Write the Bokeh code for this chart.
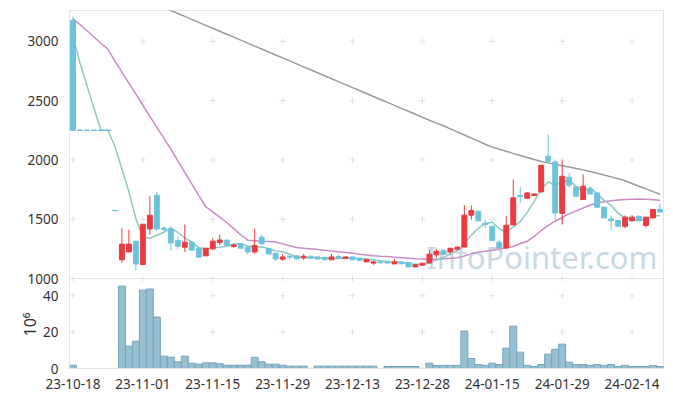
from bokeh.plotting import figure
from bokeh.models import (FixedTicker, Label, ColumnDataSource, Range1d, Span, Title)
from bokeh.embed import file_html
from bokeh.resources import INLINE

# ---------------- data ----------------
tick_days = [0, 10, 20, 30, 40, 50, 60, 70, 80]
tick_labels = ["23-10-18", "23-11-01", "23-11-15", "23-11-29", "23-12-13",
               "23-12-28", "24-01-15", "24-01-29", "24-02-14"]
price_ticks = [1000, 1500, 2000, 2500, 3000]
volume_ticks = [0, 20, 40]

opens = [3175, 2250, 2250, 2250, 2250, 2250, 1573, 1158, 1224, 1314,
         1118, 1418, 1702, 1425, 1420, 1320, 1264, 1306, 1255, 1191,
         1250, 1303, 1323, 1270, 1295, 1264, 1224, 1348, 1253, 1213,
         1163, 1188, 1191, 1175, 1188, 1182, 1178, 1158, 1185, 1168,
         1182, 1171, 1140, 1130, 1142, 1142, 1123, 1140, 1135, 1098,
         1112, 1131, 1200, 1239, 1224, 1247, 1266, 1534, 1567, 1466,
         1441, 1306, 1258, 1452, 1702, 1677, 1700, 1730, 2031, 1983,
         1550, 1854, 1772, 1666, 1755, 1722, 1601, 1502, 1489, 1441,
         1486, 1525, 1447, 1511, 1581]
highs = [3210, 2250, 2250, 2250, 2250, 2250, 1573, 1427, 1413, 1314,
         1460, 1694, 1727, 1440, 1440, 1350, 1455, 1310, 1258, 1258,
         1340, 1371, 1330, 1292, 1298, 1266, 1421, 1371, 1255, 1215,
         1207, 1190, 1193, 1205, 1192, 1184, 1180, 1207, 1199, 1185,
         1184, 1174, 1162, 1152, 1150, 1145, 1165, 1142, 1137, 1117,
         1132, 1244, 1250, 1242, 1258, 1272, 1618, 1615, 1570, 1497,
         1443, 1329, 1525, 1835, 1772, 1728, 1715, 1958, 2214, 2003,
         1995, 1890, 1775, 1877, 1778, 1725, 1603, 1531, 1491, 1531,
         1536, 1528, 1520, 1585, 1632]
lows = [2250, 2250, 2250, 2250, 2250, 2250, 1573, 1133, 1222, 1067,
        1112, 1371, 1399, 1400, 1236, 1250, 1224, 1232, 1178, 1190,
        1240, 1281, 1275, 1258, 1252, 1207, 1207, 1290, 1205, 1148,
        1148, 1157, 1160, 1157, 1168, 1163, 1155, 1155, 1168, 1166,
        1155, 1150, 1138, 1115, 1125, 1128, 1122, 1122, 1096, 1096,
        1110, 1128, 1174, 1203, 1211, 1236, 1262, 1497, 1484, 1427,
        1318, 1256, 1256, 1450, 1637, 1669, 1698, 1728, 1987, 1497,
        1455, 1764, 1692, 1664, 1711, 1599, 1509, 1410, 1439, 1424,
        1484, 1484, 1430, 1508, 1557]
closes = [2250, 2250, 2250, 2250, 2250, 2250, 1573, 1290, 1290, 1123,
          1458, 1534, 1418, 1415, 1300, 1272, 1306, 1240, 1180, 1255,
          1314, 1325, 1280, 1283, 1256, 1224, 1278, 1292, 1207, 1165,
          1182, 1180, 1165, 1188, 1172, 1165, 1158, 1182, 1170, 1182,
          1158, 1153, 1160, 1140, 1134, 1130, 1140, 1124, 1098, 1115,
          1129, 1205, 1230, 1205, 1255, 1264, 1534, 1573, 1486, 1455,
          1320, 1260, 1449, 1680, 1690, 1722, 1713, 1955, 1989, 1553,
          1862, 1787, 1694, 1778, 1713, 1601, 1511, 1488, 1441, 1517,
          1517, 1486, 1517, 1581, 1560]
volume_millions = [1.8, 0, 0, 0, 0, 0, 0, 45.3, 12.3, 15.0,
                   43.1, 43.7, 28.3, 6.8, 6.2, 3.7, 6.8, 2.9, 2.4, 3.1,
                   3.1, 2.6, 1.8, 1.8, 1.8, 1.8, 6.2, 3.7, 2.4, 2.4,
                   1.8, 1.3, 1.3, 1.3, 0, 1.3, 1.3, 1.3, 1.3, 1.3,
                   1.3, 1.3, 1.3, 1.3, 0, 1.1, 1.1, 1.1, 1.1, 1.1,
                   0, 2.9, 1.7, 1.7, 1.7, 1.7, 20.6, 5.5, 2.2, 1.7,
                   2.9, 2.2, 11.2, 23.3, 9.0, 1.7, 1.1, 2.2, 7.9, 10.6,
                   13.4, 3.5, 2.2, 2.2, 1.7, 2.2, 1.7, 2.2, 1.1, 1.7,
                   1.1, 1.1, 1.1, 1.7, 1.1]
ma_short = [3040, 2818, 2627, 2436, 2250, 2250, 2115, 1923, 1731, 1505,
            1347, 1339, 1365, 1390, 1425, 1388, 1342, 1307, 1260, 1251,
            1259, 1263, 1271, 1291, 1292, 1274, 1264, 1267, 1251, 1233,
            1225, 1205, 1180, 1176, 1177, 1174, 1170, 1173, 1169, 1171,
            1170, 1169, 1165, 1159, 1149, 1143, 1141, 1134, 1125, 1121,
            1121, 1134, 1155, 1177, 1205, 1232, 1298, 1366, 1422, 1462,
            1474, 1419, 1394, 1433, 1480, 1560, 1651, 1752, 1814, 1786,
            1814, 1829, 1777, 1735, 1767, 1715, 1659, 1618, 1551, 1512,
            1495, 1490, 1496, 1524, 1532]
ma_mid = [3190, 3141, 3089, 3037, 2984, 2933, 2834, 2741, 2647, 2554,
          2461, 2368, 2275, 2183, 2090, 1992, 1896, 1798, 1701, 1605,
          1562, 1518, 1472, 1421, 1369, 1323, 1319, 1315, 1312, 1308,
          1292, 1277, 1261, 1255, 1250, 1244, 1239, 1232, 1226, 1219,
          1213, 1205, 1199, 1192, 1188, 1185, 1180, 1175, 1170, 1166,
          1164, 1162, 1163, 1167, 1170, 1176, 1190, 1210, 1222, 1230,
          1238, 1248, 1258, 1270, 1295, 1314, 1355, 1405, 1445, 1483,
          1515, 1545, 1570, 1595, 1620, 1635, 1648, 1656, 1662, 1666,
          1668, 1670, 1668, 1664, 1660]
ma_long = [3610, 3585, 3560, 3535, 3510, 3485, 3460, 3435, 3410, 3385,
           3360, 3335, 3310, 3285, 3260, 3235, 3210, 3185, 3160, 3135,
           3110, 3085, 3060, 3035, 3010, 2985, 2960, 2935, 2910, 2885,
           2860, 2835, 2810, 2785, 2760, 2735, 2710, 2685, 2660, 2635,
           2610, 2585, 2560, 2535, 2510, 2485, 2460, 2435, 2410, 2385,
           2360, 2335, 2310, 2288, 2262, 2236, 2210, 2184, 2158, 2132,
           2108, 2090, 2073, 2055, 2038, 2020, 2003, 1987, 1975, 1963,
           1951, 1940, 1928, 1916, 1903, 1888, 1872, 1857, 1842, 1824,
           1801, 1778, 1756, 1733, 1710]

# ---------------- styling / layout ----------------
FONT = "Noto Sans"
UP = "#ec3a3f"
DOWN = "#6bc3dc"
TXT = "#333333"
FRAME = "#e3e3e3"
CROSS = "#e0e0e0"

PRICE_H = 268      # px of the price panel
VOL_H = 90         # px of the volume panel
FRAME_H = PRICE_H + VOL_H
PRICE_MIN, PRICE_MAX = 1000, 3260
VOL_MAX = 49.5

price_per_px = (PRICE_MAX - PRICE_MIN) / PRICE_H
price_lo = PRICE_MIN - VOL_H * price_per_px
vol_hi = VOL_MAX * FRAME_H / VOL_H

n = len(closes)
days = list(range(n))
colors = [UP if c > o else DOWN for o, c in zip(opens, closes)]
body_top, body_bot = [], []
for o, c in zip(opens, closes):
    t, b = max(o, c), min(o, c)
    if t - b < 4:
        m = (t + b) / 2.0
        t, b = m + 2, m - 2
    body_top.append(t)
    body_bot.append(b)

src = ColumnDataSource(dict(day=days, open=opens, high=highs, low=lows, close=closes,
                            top=body_top, bot=body_bot, color=colors,
                            ma5=ma_short, ma20=ma_mid, ma60=ma_long,
                            vol=volume_millions))

p = figure(frame_width=594, frame_height=FRAME_H,
           x_range=Range1d(-0.5, n - 0.5),
           y_range=Range1d(price_lo, PRICE_MAX),
           output_backend="svg", toolbar_location=None,
           min_border_left=69, min_border_right=10, min_border_top=10,
           min_border_bottom=28)
p.extra_y_ranges = {"vol": Range1d(0, vol_hi)}
p.xgrid.visible = False
p.ygrid.visible = False
p.outline_line_color = FRAME
p.background_fill_color = "white"
p.border_fill_color = "white"

# panel separator
p.add_layout(Span(location=PRICE_MIN, dimension="width", line_color=FRAME, line_width=1))

# grid crosses at tick intersections
gx = [d for d in tick_days for _ in price_ticks]
gy = [v for _ in tick_days for v in price_ticks]
p.scatter(gx, gy, marker="cross", size=6, line_color=CROSS, line_width=1)
vx = [d for d in tick_days for _ in volume_ticks]
vy = [v for _ in tick_days for v in volume_ticks]
p.scatter(vx, vy, marker="cross", size=6, line_color=CROSS, line_width=1, y_range_name="vol")

# watermark
wm = Label(x=588, y=10 + FRAME_H - 256, x_units="screen", y_units="screen",
           text="InfoPointer.com", text_font=FONT, text_font_size="31px",
           text_color="#c8d9e4", text_align="right", text_baseline="middle",
           level="underlay")
p.add_layout(wm)

# moving averages
p.line("day", "ma60", source=src, line_color="#9a9a9a", line_width=1.5)
p.line("day", "ma20", source=src, line_color="#c98cc6", line_width=1.5)
p.line("day", "ma5", source=src, line_color="#8ccac2", line_width=1.5)

# candles
p.segment(x0="day", y0="low", x1="day", y1="high", source=src,
          line_color="color", line_width=1)
p.vbar(x="day", top="top", bottom="bot", width=0.7, source=src,
       fill_color="color", line_color="color", line_width=1)

# volume
p.vbar(x="day", top="vol", bottom=0, width=1.0, source=src, y_range_name="vol",
       fill_color="#97bfd0", line_color="#76a4ba", line_width=1)

# x axis
xa = p.xaxis[0]
xa.ticker = FixedTicker(ticks=tick_days)
xa.major_label_overrides = {d: s for d, s in zip(tick_days, tick_labels)}
xa.major_label_text_font = FONT
xa.major_label_text_font_size = "13.5px"
xa.major_label_text_color = TXT
xa.axis_line_color = FRAME
xa.major_tick_line_color = None
xa.minor_tick_line_color = None
xa.major_label_standoff = 4

# y axis: price ticks plus volume ticks expressed on the price scale
vol_to_price = (PRICE_MAX - price_lo) / vol_hi
vol_tick_pos = [price_lo + v * vol_to_price for v in volume_ticks]
ya = p.yaxis[0]
ya.ticker = FixedTicker(ticks=price_ticks + vol_tick_pos)
overrides = {t: str(t) for t in price_ticks}
overrides.update({pos: str(v) for pos, v in zip(vol_tick_pos, volume_ticks)})
ya.major_label_overrides = overrides
ya.major_label_text_font = FONT
ya.major_label_text_font_size = "13.5px"
ya.major_label_text_color = TXT
ya.axis_line_color = FRAME
ya.major_tick_line_color = None
ya.minor_tick_line_color = None
ya.major_label_standoff = 5

# volume unit label (vertical, beside the volume panel)
unit = Title(text="10⁶", align="left", offset=32, standoff=-33,
             text_font=FONT, text_font_size="16px", text_font_style="normal",
             text_color=TXT)
p.add_layout(unit, "left")

open("out.html", "w").write(file_html(p, INLINE))
